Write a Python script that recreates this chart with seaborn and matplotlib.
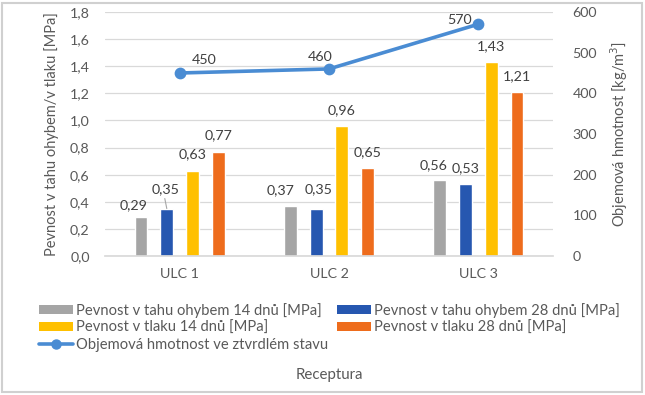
import matplotlib
matplotlib.use("Agg")
import matplotlib.pyplot as plt
import seaborn as sns
import pandas as pd
from matplotlib.patches import Patch, Rectangle
from matplotlib.lines import Line2D
from matplotlib.ticker import FuncFormatter

# ---- data ----
categories = ["ULC 1", "ULC 2", "ULC 3"]
series_names = [
    "Pevnost v tahu ohybem 14 dnů [MPa]",
    "Pevnost v tahu ohybem 28 dnů [MPa]",
    "Pevnost v tlaku 14 dnů [MPa]",
    "Pevnost v tlaku 28 dnů [MPa]",
]
flex14 = [0.29, 0.37, 0.56]
flex28 = [0.35, 0.35, 0.53]
comp14 = [0.63, 0.96, 1.43]
comp28 = [0.77, 0.65, 1.21]
density = [450, 460, 570]
density_name = "Objemová hmotnost ve ztvrdlém stavu"
left_ticks = [0.0, 0.2, 0.4, 0.6, 0.8, 1.0, 1.2, 1.4, 1.6, 1.8]
right_ticks = [0, 100, 200, 300, 400, 500, 600]

colors = ["#A5A5A5", "#2657B0", "#FFC000", "#EE6C1C"]
line_color = "#4A8CD3"
text_color = "#595959"
grid_color = "#D9D9D9"

sns.set_theme(style="white")
plt.rcParams["font.family"] = ["Lato", "DejaVu Sans"]
plt.rcParams["font.size"] = 10

all_series = [flex14, flex28, comp14, comp28]
df = pd.DataFrame({
    "Receptura": [c for s in all_series for c in categories],
    "Hodnota": [v for s in all_series for v in s],
    "Serie": [n for n, s in zip(series_names, all_series) for _ in s],
})

fig = plt.figure(figsize=(6.45, 3.95), dpi=100)
ax = fig.add_axes([105 / 645, 1 - 256 / 395, 448 / 645, 244 / 395])

sns.barplot(data=df, x="Receptura", y="Hodnota", hue="Serie", hue_order=series_names,
            palette=colors, width=0.69, gap=0.5, ax=ax, legend=False,
            saturation=1, errorbar=None)

ax.set_ylim(0, 1.8)
ax.set_xlim(-0.5, 2.5)
ax.set_yticks(left_ticks)
ax.yaxis.set_major_formatter(FuncFormatter(lambda v, p: f"{v:.1f}".replace(".", ",")))
ax.grid(axis="y", color=grid_color, linewidth=0.9)
ax.set_axisbelow(True)
for s in ["top", "left", "right"]:
    ax.spines[s].set_visible(False)
ax.spines["bottom"].set_color(grid_color)
ax.tick_params(axis="both", length=0, colors=text_color, labelsize=10.3)
ax.tick_params(axis="y", pad=11)
ax.tick_params(axis="x", pad=9)
ax.set_xlabel("")
ax.set_ylabel("Pevnost v tahu ohybem/v tlaku [MPa]", color=text_color, fontsize=10.5, labelpad=8)

# bar labels (offsets in pixels: dx, dy-center)
special = {(0, 0): (-7, 12), (1, 0): (-1, 19), (0, 1): (-10, 16), (1, 1): (2, 19), (0, 2): (-6, 15)}
for si, cont in enumerate(ax.containers):
    vals = all_series[si]
    for ci, p in enumerate(cont.patches):
        xc = p.get_x() + p.get_width() / 2
        dx, dy = special.get((si, ci), (0, 16))
        ax.annotate(f"{vals[ci]:.2f}".replace(".", ","), (xc, vals[ci]),
                    xytext=(dx, dy), textcoords="offset pixels",
                    ha="center", va="center", color="#404040", fontsize=10.3)
# leader line for ULC 1 second bar
p = ax.containers[1].patches[0]
xc = p.get_x() + p.get_width() / 2
ax.annotate("", (xc, flex28[0]), xytext=(-2, 10), textcoords="offset pixels",
            arrowprops=dict(arrowstyle="-", color="#A6A6A6", lw=0.8, shrinkA=0, shrinkB=0))

ax2 = ax.twinx()
sns.pointplot(x=categories, y=density, ax=ax2, color=line_color, markers="o",
              linestyles="-", linewidth=2.6, markersize=6.5)
ax2.set_ylim(0, 600)
ax2.set_xlim(-0.5, 2.5)
ax2.set_yticks(right_ticks)
for s in ax2.spines.values():
    s.set_visible(False)
ax2.tick_params(axis="y", length=0, colors=text_color, labelsize=10.3, pad=14)
ax2.set_ylabel("Objemová hmotnost [kg/m$^3$]", color=text_color, fontsize=10.5, labelpad=8)
ax2.set_xlabel("")

line_offsets = [(25, 13), (-9, 12), (-19, 4)]
for i, v in enumerate(density):
    ax2.annotate(str(v), (i, v), xytext=line_offsets[i], textcoords="offset pixels",
                 ha="center", va="center", color="#404040", fontsize=10.3)

# legend
handles = [Patch(facecolor=c, edgecolor="none") for c in colors]
line_h = Line2D([0], [0], color=line_color, lw=2.6, marker="o", markersize=6.5)
order_h = [handles[0], handles[2], line_h, handles[1], handles[3]]
order_l = [series_names[0], series_names[2], density_name, series_names[1], series_names[3]]
leg = fig.legend(order_h, order_l, loc="upper left", bbox_to_anchor=(39 / 645, 1 - 303 / 395),
                 ncol=2, frameon=False, fontsize=10.6, handlelength=2.3, handleheight=0.6,
                 handletextpad=0.2, columnspacing=0.6, labelspacing=0.2, borderaxespad=0,
                 borderpad=0)
for t in leg.get_texts():
    t.set_color(text_color)

fig.text(329 / 645, 1 - 375 / 395, "Receptura", ha="center", va="center",
         color=text_color, fontsize=10.8)

fig.patches.append(Rectangle((2 / 645, 3 / 395), 640 / 645, 389 / 395, transform=fig.transFigure,
                             fill=False, edgecolor="#D0D0D0", linewidth=1.5))

fig.savefig("out.png", dpi=100)
